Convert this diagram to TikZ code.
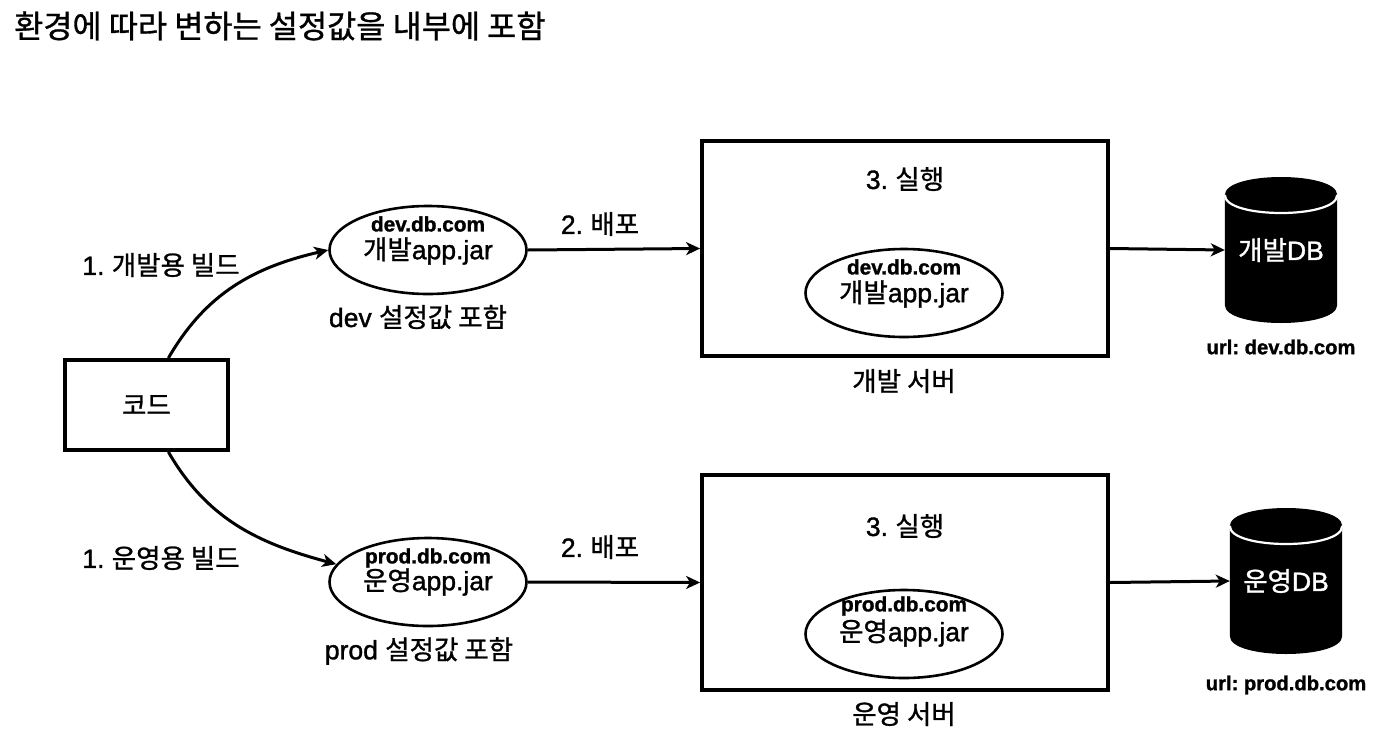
\documentclass[tikz,border=0pt]{standalone}
\usepackage{fontspec}
\setmainfont{Liberation Sans}[FakeBold=1.3]
\newfontfamily\krfont{Noto Sans CJK KR}[FakeBold=1]
\newcommand{\kr}[1]{{\krfont #1}}
\frenchspacing
\usetikzlibrary{shapes.geometric,arrows.meta}
\tikzset{
	box/.style={draw,line width=3.8pt,rectangle,minimum width=#1},
	jar/.style={draw,line width=2.6pt,ellipse,minimum width=197pt,minimum height=88pt,inner sep=0pt},
	db/.style={rectangle,minimum width=112pt,minimum height=146pt,inner sep=0pt},
	dbrim/.style={draw=white,line width=2.2pt},
	conn/.style={line width=3pt,-{Stealth[length=14pt,width=13pt,inset=4pt]}},
	lbl/.style={inner sep=0pt,font=\fontsize{26.5}{26.5}\selectfont},
	small/.style={inner sep=0pt,font=\fontsize{20.8}{20.8}\selectfont\bfseries},
	dburl/.style={inner sep=0pt,font=\fontsize{20.2}{20.2}\selectfont\bfseries},
}
% black cylinder with white rim on a named node
\newcommand{\dbbody}[1]{
	\fill[black] ([yshift=55pt]#1.west) .. controls +(0,-24) and ([yshift=79pt]#1.east) .. ([yshift=55pt]#1.east)
		-- ([yshift=-55pt]#1.east) .. controls +(0,24) and ([yshift=-79pt]#1.west) .. ([yshift=-55pt]#1.west) -- cycle;
	\draw[dbrim] ([yshift=55pt]#1.west) .. controls +(0,24) and ([yshift=31pt]#1.east) .. ([yshift=55pt]#1.east);
}
\begin{document}
\begin{tikzpicture}[x=1pt,y=-1pt]
	\useasboundingbox (0,0) rectangle (1384,734);
	\node[lbl,anchor=west,font=\fontsize{31.7}{31.7}\selectfont] (title) at (14,26) {\kr{환경에 따라 변하는 설정값을 내부에 포함}};
	% code
	\node[box=163pt,minimum height=90pt,lbl] (code) at (146.5,405) {\kr{코드}};
	% dev row
	\node[jar] (devjar) at (428,250) {};
	\node[small] (devurl) at (428,224) {dev.db.com};
	\node[lbl] (devname) at (428,251) {\kr{개발}app.jar};
	\node[lbl] (devconf) at (418,317) {dev \kr{설정값 포함}};
	\node[lbl] (devbuild) at (161,265) {1. \kr{개발용 빌드}};
	\node[lbl] (devdeploy) at (600,224) {2. \kr{배포}};
	\node[box=406pt,minimum height=215pt] (devserver) at (905,248.5) {};
	\node[lbl] (devrun) at (905,179) {3. \kr{실행}};
	\node[jar] (devjar2) at (904,293) {};
	\node[small] (devurl2) at (904,267) {dev.db.com};
	\node[lbl] (devname2) at (904,294) {\kr{개발}app.jar};
	\node[lbl] (devservername) at (904,381) {\kr{개발 서버}};
	\node[db] (devdb) at (1281,250) {};
	\dbbody{devdb}
	\node[lbl,text=white] (devdbname) at (1281,250) {\kr{개발}DB};
	\node[dburl] (devdburl) at (1281,347) {url: dev.db.com};
	% prod row
	\node[jar] (prodjar) at (428,582) {};
	\node[small] (produrl) at (428,558) {prod.db.com};
	\node[lbl] (prodname) at (428,582) {\kr{운영}app.jar};
	\node[lbl] (prodconf) at (419,651) {prod \kr{설정값 포함}};
	\node[lbl] (prodbuild) at (161,558) {1. \kr{운영용 빌드}};
	\node[lbl] (proddeploy) at (600,547) {2. \kr{배포}};
	\node[box=406pt,minimum height=215pt] (prodserver) at (905,582.5) {};
	\node[lbl] (prodrun) at (905,526) {3. \kr{실행}};
	\node[jar] (prodjar2) at (904,634) {};
	\node[small] (produrl2) at (904,606) {prod.db.com};
	\node[lbl] (prodname2) at (904,633) {\kr{운영}app.jar};
	\node[lbl] (prodservername) at (904,714) {\kr{운영 서버}};
	\node[db] (proddb) at (1286,581) {};
	\dbbody{proddb}
	\node[lbl,text=white] (proddbname) at (1286,581) {\kr{운영}DB};
	\node[dburl] (proddburl) at (1286,685) {url: prod.db.com};
	% connectors
	\draw[conn] (code.65) to[out=60,in=193] (devjar.west);
	\draw[conn] (code.-65) to[out=-60,in=165] (prodjar.169);
	\draw[conn] (devjar.east) -- (devserver.west);
	\draw[conn] (prodjar.east) -- (prodserver.west);
	\draw[conn] (devserver.east) -- (devdb.west);
	\draw[conn] (prodserver.east) -- (proddb.west);
\end{tikzpicture}
\end{document}
